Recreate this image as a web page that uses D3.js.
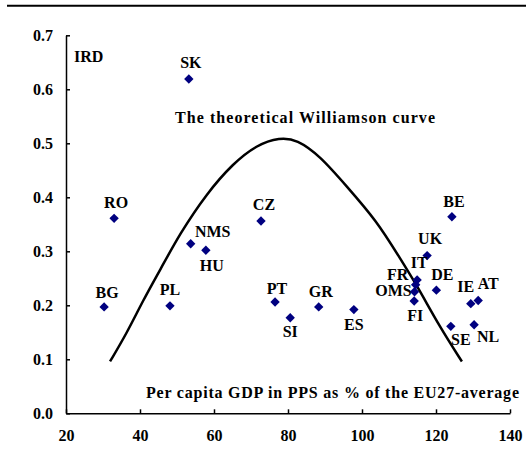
<!DOCTYPE html>
<html>
<head>
<meta charset="utf-8">
<script src="https://cdn.jsdelivr.net/npm/d3@7"></script>
<style>
  body { margin: 0; background: #fff; }
  svg text { font-family: "Liberation Serif", "Times New Roman", serif; font-weight: bold; font-size: 16px; fill: #000; }
</style>
</head>
<body>
<div id="chart"></div>
<script>
// countries / groups
regions = ['SK', 'RO', 'CZ', 'BE', 'BG', 'PL', 'NMS', 'HU', 'PT', 'SI', 'GR', 'ES',
           'UK', 'IT', 'FR', 'OMS', 'DE', 'FI', 'IE', 'AT', 'SE', 'NL'];
// per capita GDP in PPS, % of EU27 average
gdpValues = [53.2, 33.0, 72.7, 124.3, 30.3, 48.1, 53.7, 57.8, 76.5, 80.6, 88.3, 97.8,
             117.6, 114.9, 114.5, 114.2, 120.1, 114.1, 129.4, 131.4, 124.0, 130.3];
// IRD values
irdValues = [0.619, 0.361, 0.356, 0.364, 0.197, 0.199, 0.314, 0.302, 0.206, 0.177, 0.197, 0.192,
             0.292, 0.247, 0.238, 0.225, 0.228, 0.208, 0.203, 0.209, 0.161, 0.164];

// theoretical Williamson curve
curveGdp = [31.9, 36.4, 40.9, 45.4, 50.8, 58.0, 65.2, 71.5, 77.8, 82.4, 88.6, 95.9, 104.0, 110.0, 115.0, 121.0, 127.0];
curveIrd = [0.096, 0.148, 0.210, 0.265, 0.333, 0.407, 0.463, 0.497, 0.511, 0.507, 0.477, 0.420, 0.356, 0.290, 0.235, 0.160, 0.096];

xTicks = [20, 40, 60, 80, 100, 120, 140];
yTicks = [0, 0.1, 0.2, 0.3, 0.4, 0.5, 0.6, 0.7];

// label placement (pixels from the marker: centre x, baseline y)
labelOffset = ({
    SK: [2, -11], RO: [2, -10], CZ: [3, -11], BE: [2, -10], BG: [3, -9], PL: [0, -11],
    NMS: [22, -7], HU: [6, 21], PT: [2, -8], SI: [0, 19], GR: [2, -10], ES: [0, 20],
    UK: [3, -12], IT: [2, -12], FR: [-18, -5], OMS: [-21, 4], DE: [6, -10], FI: [1, 20],
    IE: [-5, -12], AT: [10, -11], SE: [10, 19], NL: [14, 17]
});

width = 526;
height = 455;
margin = ({top: 35.3, right: 16, bottom: 41.7, left: 66});

const svg = d3.select('#chart').append('svg')
    .attr('width', width)
    .attr('height', height)
    .attr('viewBox', [0, 0, width, height]);

const x = d3.scaleLinear().domain([20, 140]).range([margin.left, width - margin.right]);
const y = d3.scaleLinear().domain([0, 0.7]).range([height - margin.bottom, margin.top]);

// top rule
svg.append('line')
    .attr('x1', 7).attr('x2', width)
    .attr('y1', 5.7).attr('y2', 5.7)
    .attr('stroke', '#000')
    .attr('stroke-width', 2);

// axes, ticks pointing inwards
const xAxis = g => g
    .attr('transform', `translate(0,${height - margin.bottom})`)
    .call(d3.axisBottom(x).tickValues(xTicks).tickSizeInner(-4).tickSizeOuter(0).tickPadding(16))
    .call(g => g.selectAll('text').attr('font-size', null).attr('font-family', null));

const yAxis = g => g
    .attr('transform', `translate(${margin.left},0)`)
    .call(d3.axisLeft(y).tickValues(yTicks).tickFormat(d3.format('.1f')).tickSizeInner(-4).tickSizeOuter(0).tickPadding(13))
    .call(g => g.selectAll('text').attr('font-size', null).attr('font-family', null));

svg.append('g').call(xAxis);
svg.append('g').call(yAxis);
svg.selectAll('.domain, .tick line').attr('stroke', '#000').attr('stroke-width', 1.5);
svg.selectAll('.tick text').style('font-size', '16px');

// y title and x title
svg.append('text')
    .attr('x', 74).attr('y', 62)
    .text('IRD');

svg.append('text')
    .attr('x', 146).attr('y', 398)
    .attr('textLength', 373)
    .attr('lengthAdjust', 'spacing')
    .text('Per capita GDP in PPS as % of the EU27-average');

// curve
const curveData = curveGdp.map((d, i) => ({gdp: d, ird: curveIrd[i]}));
const line = d3.line()
    .x(d => x(d.gdp))
    .y(d => y(d.ird))
    .curve(d3.curveBasis);

svg.append('path')
    .datum(curveData)
    .attr('fill', 'none')
    .attr('stroke', '#000')
    .attr('stroke-width', 2.5)
    .attr('d', line);

svg.append('text')
    .attr('x', 175).attr('y', 123)
    .attr('textLength', 260)
    .attr('lengthAdjust', 'spacing')
    .text('The theoretical Williamson curve');

// points
const points = regions.map((r, i) => ({name: r, gdp: gdpValues[i], ird: irdValues[i]}));

svg.append('g')
    .attr('fill', '#000080')
    .selectAll('path')
    .data(points)
    .join('path')
    .attr('transform', d => `translate(${x(d.gdp)},${y(d.ird)})`)
    .attr('d', d3.symbol().type(d3.symbolDiamond2).size(56));

svg.append('g')
    .attr('text-anchor', 'middle')
    .selectAll('text')
    .data(points)
    .join('text')
    .attr('x', d => x(d.gdp) + labelOffset[d.name][0])
    .attr('y', d => y(d.ird) + labelOffset[d.name][1])
    .text(d => d.name);
</script>
</body>
</html>
